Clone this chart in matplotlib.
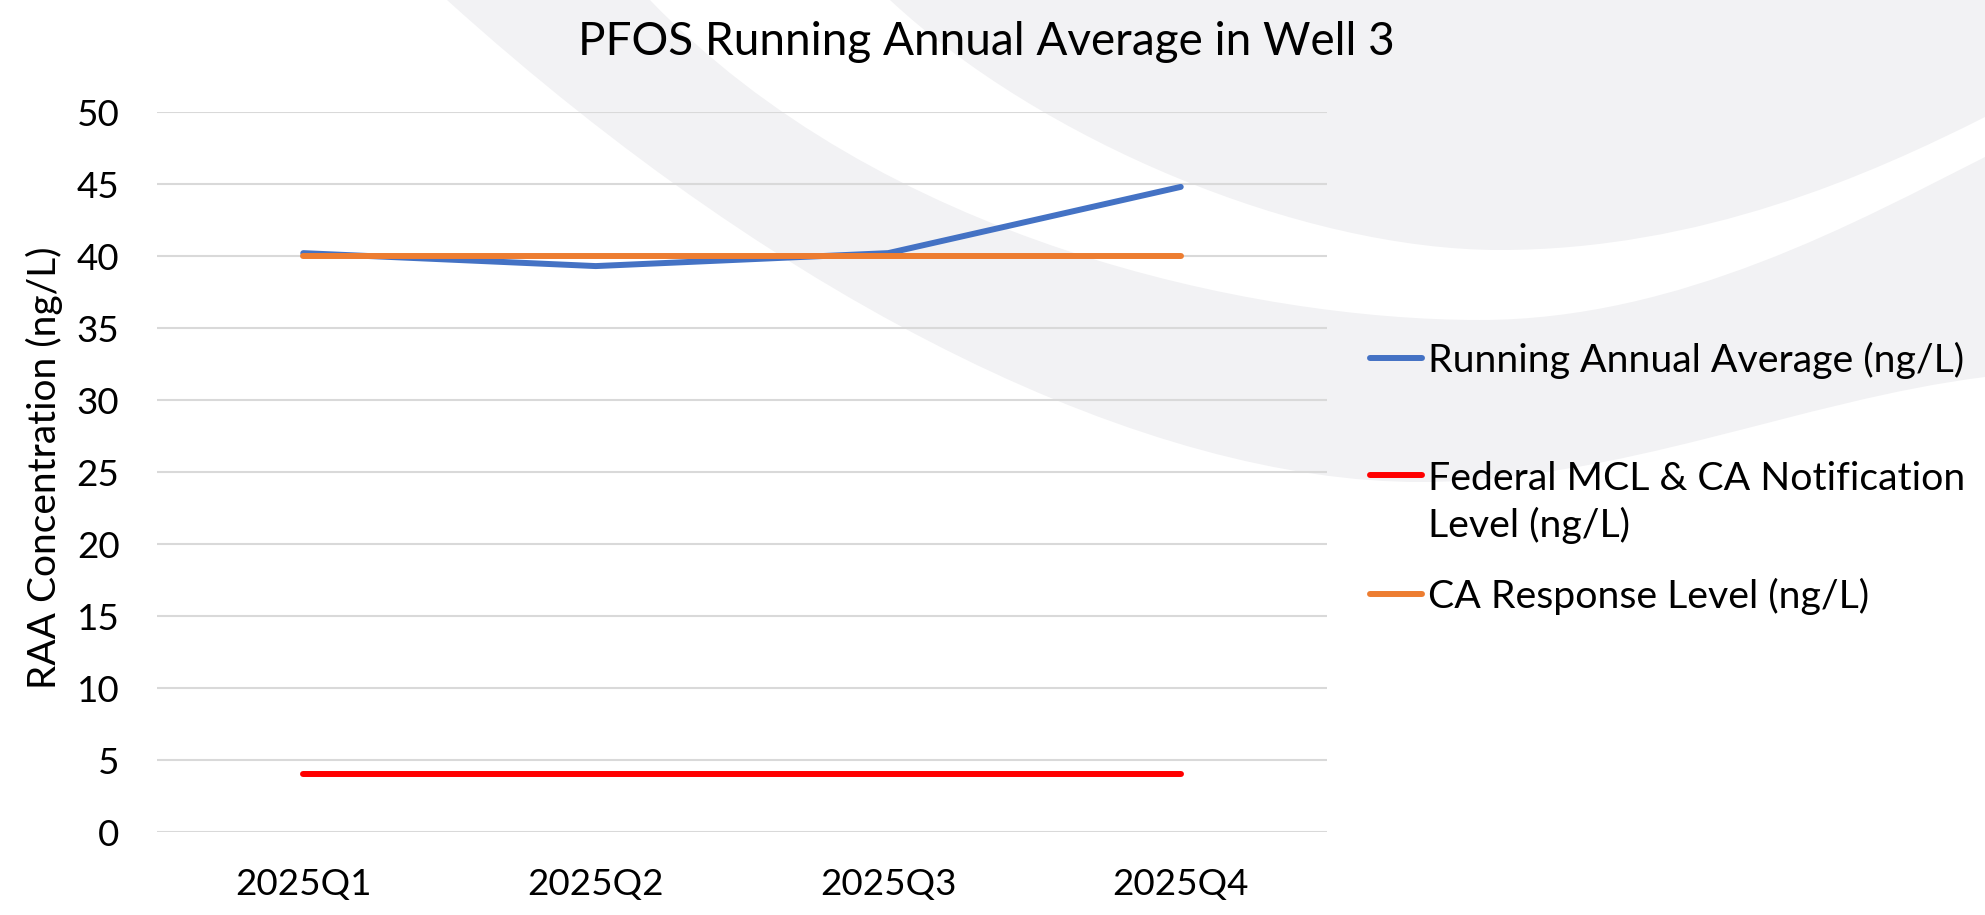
import matplotlib
matplotlib.use('Agg')
import matplotlib.pyplot as plt
from matplotlib.path import Path
from matplotlib.patches import PathPatch
from matplotlib.lines import Line2D

plt.rcParams['font.family'] = ['Lato', 'DejaVu Sans']

# data
quarters = ['2025Q1', '2025Q2', '2025Q3', '2025Q4']
raa = [40.2, 39.3, 40.2, 44.8]
mcl = [4, 4, 4, 4]
response = [40, 40, 40, 40]

labels = ['Running Annual Average (ng/L)',
          'Federal MCL & CA Notification\nLevel (ng/L)',
          'CA Response Level (ng/L)']
colors = ['#4472C4', '#FF0000', '#ED7D31']
yticks = [0, 5, 10, 15, 20, 25, 30, 35, 40, 45, 50]

W, H = 1985, 915
fig = plt.figure(figsize=(W / 100, H / 100), dpi=100)


def fpt(pts):
    return [(x / W, 1 - y / H) for x, y in pts]


# light grey swooshes in the background
C4 = Path.CURVE4
outer = [(447, 0), (790, 310), (1150, 482), (1420, 482),
         (1620, 482), (1800, 400), (1985, 377),
         (1985, 157),
         (1860, 220), (1680, 320), (1480, 320),
         (1250, 320), (880, 240), (650, 0),
         (447, 0)]
outer_codes = [Path.MOVETO, C4, C4, C4, C4, C4, C4, Path.LINETO,
               C4, C4, C4, C4, C4, C4, Path.CLOSEPOLY]
inner = [(890, 0), (1040, 140), (1300, 250), (1500, 250),
         (1700, 250), (1870, 175), (1985, 117),
         (1985, 0), (890, 0)]
inner_codes = [Path.MOVETO, C4, C4, C4, C4, C4, C4, Path.LINETO, Path.CLOSEPOLY]
for verts, codes in [(outer, outer_codes), (inner, inner_codes)]:
    patch = PathPatch(Path(fpt(verts), codes), transform=fig.transFigure,
                      facecolor='#f2f2f4', edgecolor='none', zorder=-1)
    fig.add_artist(patch)

ax = fig.add_axes([157 / W, 1 - 832 / H, (1327 - 157) / W, (832 - 112) / H])
ax.set_facecolor('none')

x = range(len(quarters))
for vals, c in zip([raa, mcl, response], colors):
    ax.plot(x, vals, color=c, lw=4.3, solid_capstyle='round',
            solid_joinstyle='round', zorder=3)

ax.set_xlim(-0.5, len(quarters) - 0.5)
ax.set_ylim(0, 50)
ax.set_yticks(yticks)
ax.set_xticks(list(x))
ax.set_xticklabels(quarters)
ax.grid(axis='y', color='#d9d9d9', lw=1.5)
ax.set_axisbelow(True)
for s in ax.spines.values():
    s.set_visible(False)
ax.tick_params(length=0, labelsize=26.5, colors='black')
ax.tick_params(axis='y', pad=27)
ax.tick_params(axis='x', pad=26)

fig.text(0.497, 1 - 42 / H, 'PFOS Running Annual Average in Well 3',
         ha='center', va='center', fontsize=33)
fig.text(44 / W, 1 - 468 / H, 'RAA Concentration (ng/L)', rotation=90,
         ha='center', va='center', fontsize=28)

# legend drawn by hand so the key sits on the first line of wrapped text
leg_y = [358, 475, 594]
line_h = 48
for lab, c, yy in zip(labels, colors, leg_y):
    fig.add_artist(Line2D([1370 / W, 1422 / W], [1 - yy / H, 1 - yy / H],
                          transform=fig.transFigure, color=c, lw=4.3,
                          solid_capstyle='round'))
    base = yy + 14 + line_h * lab.count('\n')
    fig.text(1428 / W, 1 - base / H, lab, ha='left', va='baseline',
             fontsize=28.3, linespacing=1.33)

fig.savefig('out.png', dpi=100)
